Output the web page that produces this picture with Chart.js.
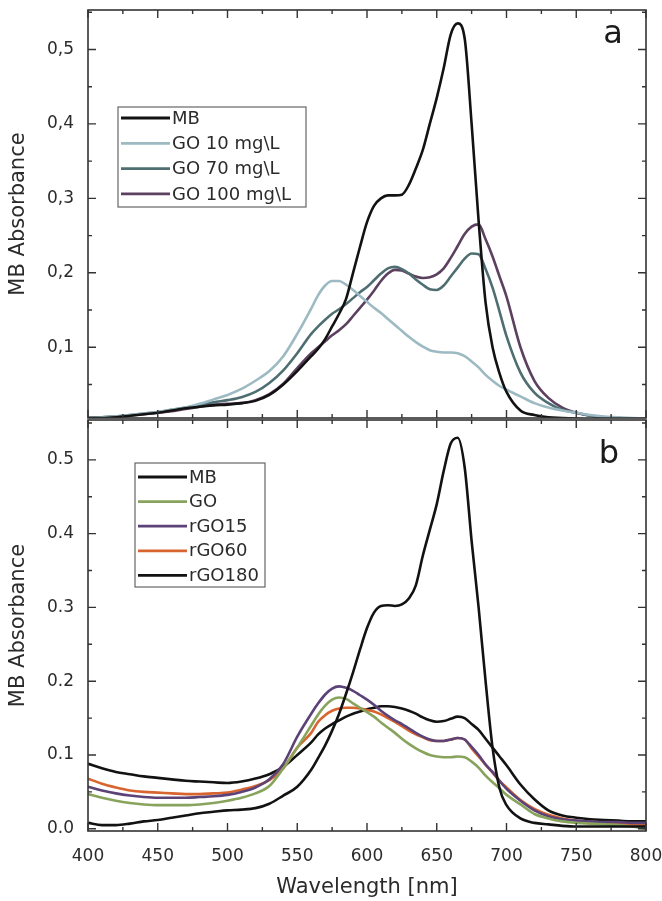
<!DOCTYPE html>
<html>
<head>
<meta charset="utf-8">
<script src="https://cdn.jsdelivr.net/npm/chart.js@4/dist/chart.umd.min.js"></script>
<style>
  body { margin: 0; background: #fff; }
  .panel { position: absolute; left: 0; width: 662px; }
</style>
</head>
<body>
<div class="panel" style="top:0;height:420px"><canvas id="chartA"></canvas></div>
<div class="panel" style="top:400px;height:501px"><canvas id="chartB"></canvas></div>
<script>
// Wellenlängen (nm), gemeinsam für alle Kurven
const wl = [400,410,420,430,440,450,460,470,480,490,500,510,520,530,540,550,560,
  565,570,575,580,585,590,595,600,605,610,615,620,625,630,635,640,645,650,655,660,665,670,675,680,685,690,695,700,
  710,720,730,740,750,760,770,780,790,800];

// Panel a
const mbA = [.005,.005,.006,.008,.010,.012,.015,.018,.020,.022,.023,.025,.028,.036,.050,.068,.088,
  .098,.111,.128,.145,.165,.200,.235,.268,.290,.300,.304,.304,.305,.318,.340,.365,.400,.435,.475,.520,.535,.515,.400,.270,.160,.100,.065,.040,
  .015,.009,.006,.005,.004,.003,.003,.002,.002,.002];
const go10 = [.005,.006,.007,.009,.011,.013,.016,.019,.024,.030,.036,.044,.055,.068,.088,.118,.152,
  .170,.183,.189,.189,.184,.177,.169,.161,.153,.146,.138,.130,.122,.114,.107,.101,.096,.094,.093,.093,.092,.088,.081,.073,.063,.055,.048,.043,
  .034,.025,.019,.015,.012,.009,.007,.006,.005,.004];
const go70 = [.005,.006,.007,.009,.011,.013,.016,.019,.022,.026,.029,.033,.040,.052,.069,.092,.118,
  .128,.137,.145,.151,.158,.166,.174,.181,.190,.199,.206,.208,.205,.199,.191,.184,.178,.177,.183,.195,.207,.219,.226,.225,.205,.180,.148,.115,
  .066,.039,.025,.016,.012,.008,.006,.005,.004,.004];
const go100 = [.005,.006,.007,.008,.010,.012,.014,.017,.020,.023,.024,.025,.029,.037,.051,.072,.092,
  .100,.108,.116,.123,.131,.142,.153,.164,.176,.189,.199,.204,.203,.199,.195,.193,.194,.198,.206,.220,.236,.252,.262,.265,.245,.222,.195,.168,
  .100,.055,.032,.019,.012,.008,.006,.005,.004,.004];

// Panel b
const mbB = [.008,.005,.005,.007,.010,.012,.015,.018,.021,.023,.025,.026,.028,.034,.045,.057,.080,
  .096,.113,.133,.156,.183,.212,.243,.272,.293,.302,.303,.302,.304,.312,.330,.370,.405,.440,.485,.522,.530,.490,.390,.300,.200,.110,.055,.032,
  .014,.008,.006,.004,.003,.003,.003,.003,.003,.003];
const go = [.047,.042,.038,.035,.033,.032,.032,.032,.033,.035,.038,.042,.048,.058,.082,.110,.140,
  .155,.167,.175,.178,.176,.170,.164,.158,.152,.144,.137,.130,.122,.115,.109,.104,.100,.098,.097,.097,.098,.097,.091,.083,.072,.063,.055,.046,
  .033,.020,.014,.010,.008,.007,.006,.005,.003,.000];
const rgo15 = [.057,.052,.048,.045,.043,.042,.042,.042,.043,.044,.046,.050,.056,.067,.088,.125,.156,
  .170,.182,.190,.193,.191,.187,.181,.175,.168,.160,.153,.147,.142,.136,.130,.125,.121,.119,.119,.121,.123,.121,.111,.100,.087,.077,.065,.054,
  .038,.025,.017,.013,.011,.010,.009,.009,.008,.008];
const rgo60 = [.068,.061,.056,.052,.050,.049,.048,.047,.047,.048,.049,.053,.058,.066,.082,.110,.130,
  .145,.154,.160,.163,.164,.164,.163,.161,.159,.155,.150,.145,.139,.133,.128,.124,.120,.119,.119,.121,.123,.121,.109,.098,.087,.076,.065,.056,
  .039,.027,.019,.014,.011,.009,.008,.007,.006,.005];
const rgo180 = [.088,.082,.077,.074,.071,.069,.067,.065,.064,.063,.062,.064,.068,.074,.084,.100,.117,
  .128,.136,.142,.147,.152,.156,.159,.162,.164,.166,.166,.165,.163,.160,.156,.151,.147,.145,.146,.149,.152,.150,.142,.134,.122,.110,.098,.086,
  .060,.040,.025,.018,.015,.013,.012,.011,.010,.010];

const xTicks = [400, 450, 500, 550, 600, 650, 700, 750, 800];
const FONT = '"DejaVu Sans", "Liberation Sans", Arial, sans-serif';
const TXT = '#2b2b2b';

function pts(arr) {
    return wl.map((w, i) => ({ x: w, y: arr[i] }));
}

function ds(label, arr, color) {
    return {
        label: label,
        data: pts(arr),
        borderColor: color,
        backgroundColor: color,
        borderWidth: 2.6,
        pointRadius: 0,
        cubicInterpolationMode: 'monotone',
        fill: false
    };
}

// Rahmen, Innen-Ticks, Legende und Buchstabe
const framePlugin = {
    id: 'frame',
    afterDatasetsDraw(chart, args, opts) {
        const { ctx, chartArea: a, scales } = chart;
        const x = scales.x, y = scales.y;
        ctx.save();
        ctx.strokeStyle = '#333';
        ctx.lineWidth = 1.6;
        ctx.strokeRect(a.left, a.top, a.right - a.left, a.bottom - a.top);

        ctx.lineWidth = 1.4;
        ctx.beginPath();
        for (let v = 400; v <= 800; v += 25) {
            const px = x.getPixelForValue(v);
            const len = v % 50 === 0 ? 8 : 4;
            ctx.moveTo(px, a.bottom); ctx.lineTo(px, a.bottom - len);
            ctx.moveTo(px, a.top); ctx.lineTo(px, a.top + len);
        }
        for (let k = 0; k <= 11; k++) {
            const v = k * 0.05;
            if (v < y.min || v > y.max) continue;
            const py = y.getPixelForValue(v);
            const len = k % 2 === 0 ? 8 : 4;
            ctx.moveTo(a.left, py); ctx.lineTo(a.left + len, py);
            ctx.moveTo(a.right, py); ctx.lineTo(a.right - len, py);
        }
        ctx.stroke();

        // Legende
        const L = opts.legend;
        ctx.fillStyle = '#fff';
        ctx.fillRect(L.x, L.y, L.w, L.h);
        ctx.strokeStyle = '#666';
        ctx.lineWidth = 1.2;
        ctx.strokeRect(L.x, L.y, L.w, L.h);
        ctx.font = '18px ' + FONT;
        ctx.textBaseline = 'middle';
        ctx.textAlign = 'left';
        chart.data.datasets.forEach((d, i) => {
            const ry = L.row0 + i * L.step;
            ctx.strokeStyle = d.borderColor;
            ctx.lineWidth = 2.8;
            ctx.beginPath();
            ctx.moveTo(L.x + 3, ry);
            ctx.lineTo(L.x + 52, ry);
            ctx.stroke();
            ctx.fillStyle = TXT;
            ctx.fillText(d.label, L.x + 54, ry + 1);
        });

        ctx.font = '32px ' + FONT;
        ctx.textAlign = 'center';
        ctx.textBaseline = 'alphabetic';
        ctx.fillStyle = '#1a1a1a';
        ctx.fillText(opts.letter, opts.lx, opts.ly);
        ctx.restore();
    }
};

function yAxis(min, max, fmt) {
    return {
        type: 'linear',
        min: min,
        max: max,
        afterFit: (s) => {
            s.width = 88;
            s.paddingTop = 0;
            s.paddingBottom = 0;
        },
        grid: { display: false, drawTicks: false },
        border: { display: false },
        ticks: {
            stepSize: 0.1,
            includeBounds: false,
            padding: 14,
            color: TXT,
            font: { family: FONT, size: 17 },
            callback: fmt
        },
        title: {
            display: true,
            text: 'MB Absorbance',
            color: TXT,
            font: { family: FONT, size: 21 },
            padding: { top: 6, bottom: 0 }
        }
    };
}

function xAxis(show) {
    return {
        type: 'linear',
        min: 400,
        max: 800,
        display: show,
        afterFit: (s) => {
            s.height = show ? 70 : 0;
            s.paddingLeft = 0;
            s.paddingRight = 0;
        },
        afterBuildTicks: (s) => { s.ticks = xTicks.map(v => ({ value: v })); },
        grid: { display: false, drawTicks: false },
        border: { display: false },
        ticks: {
            padding: 15,
            color: TXT,
            font: { family: FONT, size: 17 }
        },
        title: {
            display: true,
            text: 'Wavelength [nm]',
            color: TXT,
            font: { family: FONT, size: 21 },
            padding: { top: 0, bottom: 1 }
        }
    };
}

new Chart(document.getElementById('chartA'), {
    type: 'line',
    data: {
        datasets: [
            ds('MB', mbA, '#121212'),
            ds('GO 10 mg\\L', go10, '#9dbac3'),
            ds('GO 70 mg\\L', go70, '#4f6e71'),
            ds('GO 100 mg\\L', go100, '#5c405f')
        ]
    },
    options: {
        responsive: true,
        maintainAspectRatio: false,
        animation: false,
        layout: { padding: { left: 0, right: 16, top: 10, bottom: 2 } },
        scales: {
            x: xAxis(false),
            y: yAxis(0.005, 0.553, (v) => v.toFixed(1).replace('.', ','))
        },
        plugins: {
            legend: { display: false },
            tooltip: { enabled: false },
            frame: {
                legend: { x: 118, y: 107, w: 188, h: 100, row0: 118, step: 25.3 },
                letter: 'a', lx: 613, ly: 43
            }
        }
    },
    plugins: [framePlugin]
});

new Chart(document.getElementById('chartB'), {
    type: 'line',
    data: {
        datasets: [
            ds('MB', mbB, '#121212'),
            ds('GO', go, '#88a35c'),
            ds('rGO15', rgo15, '#5b4277'),
            ds('rGO60', rgo60, '#d8642f'),
            ds('rGO180', rgo180, '#121212')
        ]
    },
    options: {
        responsive: true,
        maintainAspectRatio: false,
        animation: false,
        layout: { padding: { left: 0, right: 16, top: 20, bottom: 0 } },
        scales: {
            x: xAxis(true),
            y: yAxis(-0.003, 0.554, (v) => v.toFixed(1))
        },
        plugins: {
            legend: { display: false },
            tooltip: { enabled: false },
            frame: {
                legend: { x: 135, y: 63, w: 130, h: 124, row0: 77, step: 24.6 },
                letter: 'b', lx: 609, ly: 63
            }
        }
    },
    plugins: [framePlugin]
});
</script>
</body>
</html>
